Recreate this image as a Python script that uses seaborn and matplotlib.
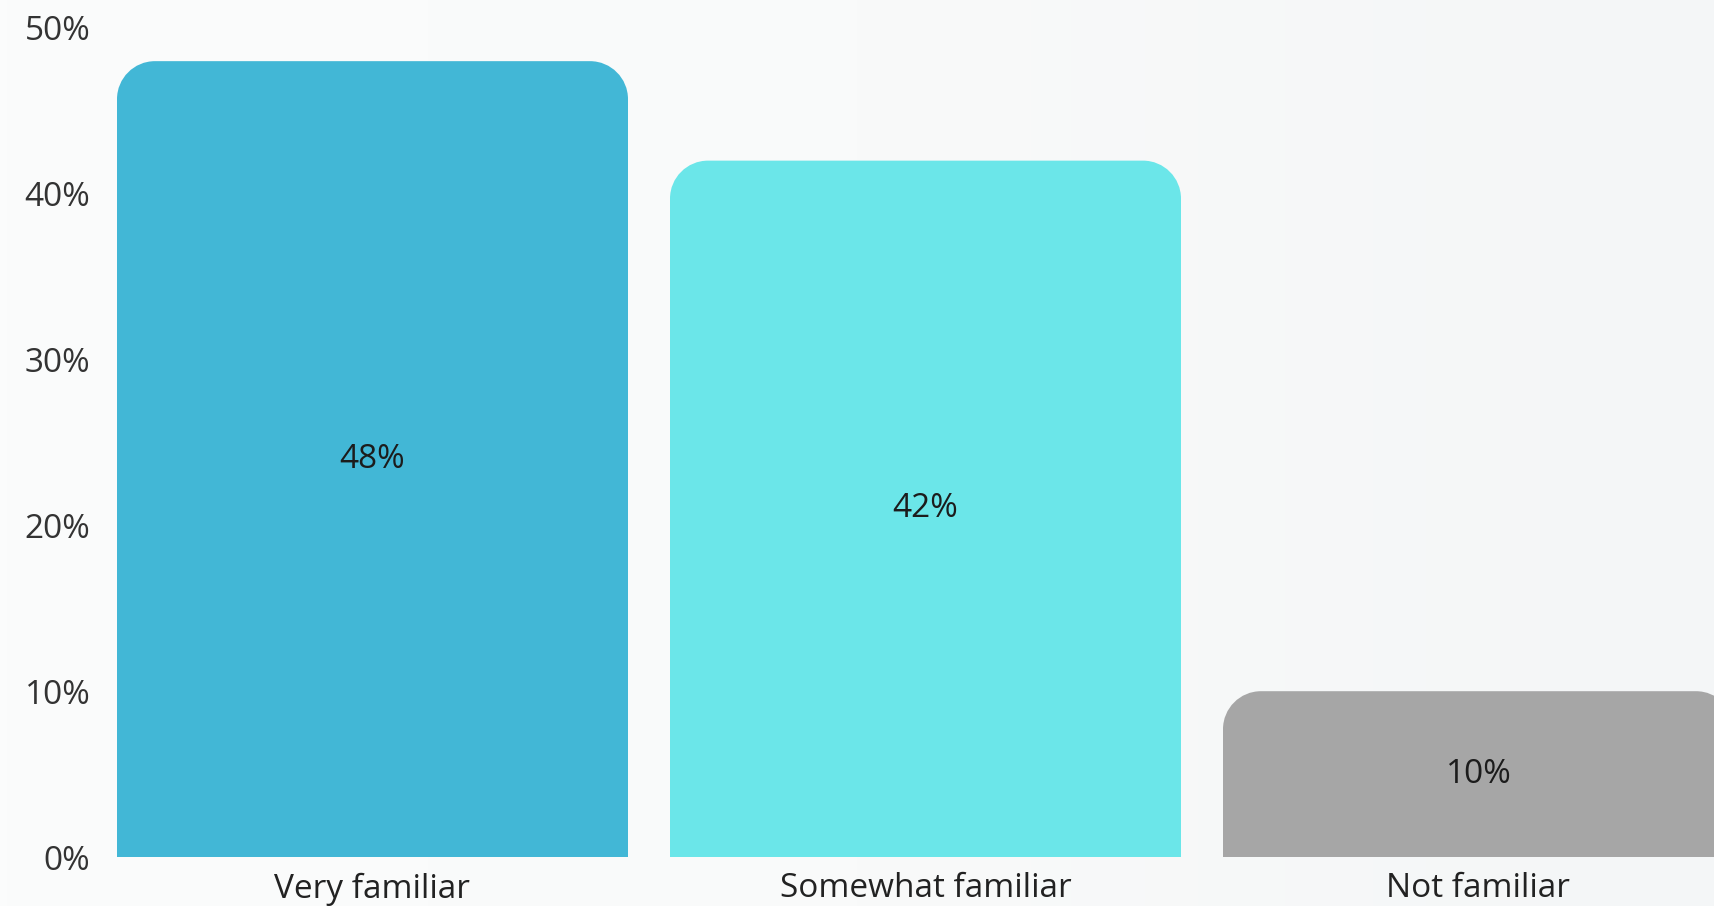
import numpy as np
import pandas as pd
import matplotlib
matplotlib.use("Agg")
import matplotlib.pyplot as plt
from matplotlib.path import Path
from matplotlib.patches import PathPatch
import seaborn as sns

# Survey results: familiarity share per answer
categories = ["Very familiar", "Somewhat familiar", "Not familiar"]
shares = [48, 42, 10]
bar_colors = ["#42B7D6", "#6BE6E9", "#A6A6A6"]
y_ticks = [0, 10, 20, 30, 40, 50]
y_tick_labels = ["0%", "10%", "20%", "30%", "40%", "50%"]

sns.set_theme(style="white")
plt.rcParams["font.family"] = ["Open Sans", "DejaVu Sans"]

W, H, DPI = 1714, 906, 100
fig = plt.figure(figsize=(W / DPI, H / DPI), dpi=DPI)

# soft light background with a faint horizontal shade
bg = fig.add_axes([0, 0, 1, 1], zorder=0)
grad = np.linspace(0, 1, 256)[None, :]
bg_cmap = matplotlib.colors.LinearSegmentedColormap.from_list(
    "bg", ["#fbfcfc", "#f9fafa", "#f4f6f7"])
bg.imshow(grad, aspect="auto", cmap=bg_cmap, extent=[0, 1, 0, 1])
bg.set_axis_off()

left_px, bottom_px, top_px = 100, 857, 28
ax = fig.add_axes([left_px / W, (H - bottom_px) / H, 1 - left_px / W,
                   (bottom_px - top_px) / H], zorder=1)
ax.patch.set_alpha(0)

df = pd.DataFrame({"category": categories, "share": shares})
bar_width = 511 / 553
sns.barplot(data=df, x="category", y="share", hue="category",
            palette=bar_colors, width=bar_width, dodge=False,
            legend=False, ax=ax, saturation=1)

ax.set_ylim(0, 50)
pitch_px = 553
ax.set_xlim((left_px - 372.5) / pitch_px, (W - 372.5) / pitch_px)

# replace square bar tops with rounded ones
px_per_unit_y = (bottom_px - top_px) / 50
radius_px = 38
rx = radius_px / pitch_px
ry = radius_px / px_per_unit_y
k = 0.5523
for bar in list(ax.patches):
    x0 = bar.get_x()
    w = bar.get_width()
    h = bar.get_height()
    x1 = x0 + w
    fc = bar.get_facecolor()
    verts = [
        (x0, 0), (x0, h - ry),
        (x0, h - ry + k * ry), (x0 + rx - k * rx, h), (x0 + rx, h),
        (x1 - rx, h),
        (x1 - rx + k * rx, h), (x1, h - ry + k * ry), (x1, h - ry),
        (x1, 0), (x0, 0),
    ]
    codes = [Path.MOVETO, Path.LINETO,
             Path.CURVE4, Path.CURVE4, Path.CURVE4,
             Path.LINETO,
             Path.CURVE4, Path.CURVE4, Path.CURVE4,
             Path.LINETO, Path.CLOSEPOLY]
    ax.add_patch(PathPatch(Path(verts, codes), facecolor=fc,
                           edgecolor="none", zorder=2))
    bar.set_visible(False)
    ax.text(x0 + w / 2, h / 2, f"{h:.0f}%", ha="center", va="center",
            fontsize=24, color="#1c1c1c", zorder=3)

ax.set_yticks(y_ticks)
ax.set_yticklabels(y_tick_labels)
ax.set_xlabel("")
ax.set_ylabel("")
ax.tick_params(axis="y", length=0, pad=7, labelsize=24, labelcolor="#333333")
ax.tick_params(axis="x", length=0, pad=11, labelsize=24, labelcolor="#222222")
for s in ax.spines.values():
    s.set_visible(False)
ax.grid(False)

fig.savefig("out.png", dpi=DPI)
